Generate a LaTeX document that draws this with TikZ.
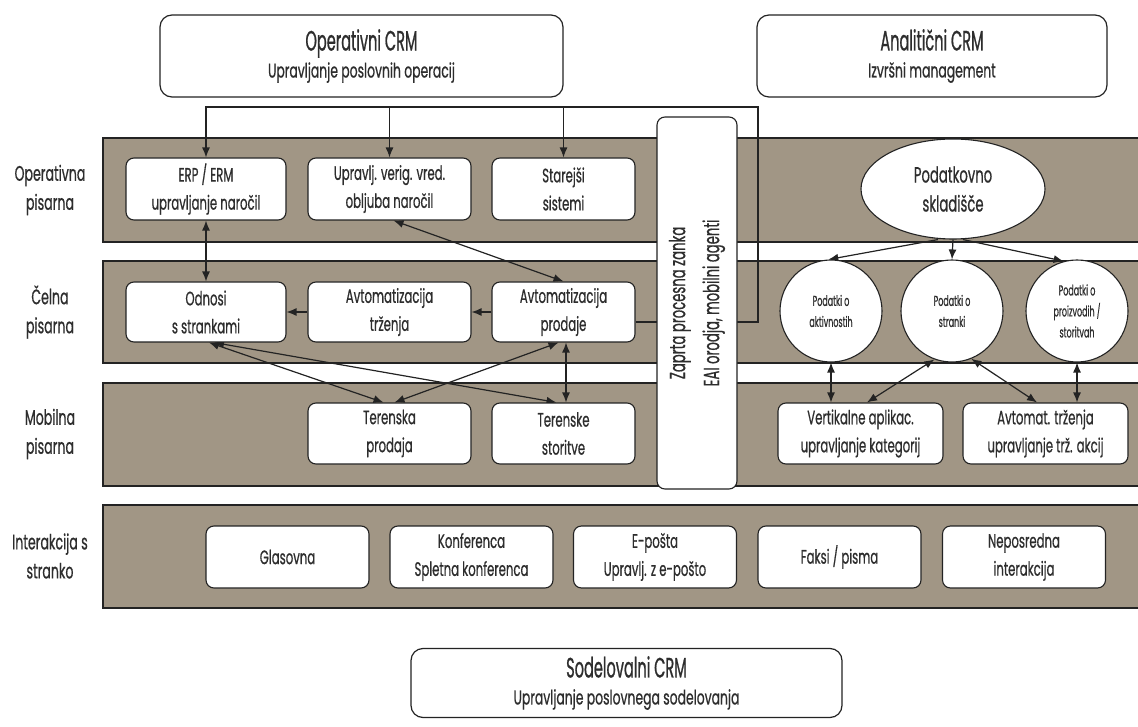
\documentclass[tikz,border=0pt]{standalone}
\usepackage{fontspec}
\setmainfont{Poppins}[FakeStretch=0.6, FakeBold=0.6]
\newfontfamily\ttlfont{Poppins}[FakeStretch=0.52, FakeBold=0.7]
\newfontfamily\subfontx{Poppins}[FakeStretch=0.62, FakeBold=0.6]
\newfontfamily\circfont{Poppins}[FakeStretch=0.55, FakeBold=0.5]
\usetikzlibrary{arrows.meta,shapes.geometric,calc}
\definecolor{bandc}{RGB}{161,150,133}
\definecolor{ink}{RGB}{35,35,35}
\definecolor{txt}{RGB}{45,45,45}
\pgfdeclarelayer{bg}
\pgfdeclarelayer{lines}
\pgfsetlayers{bg,lines,main}
\begin{document}
\begin{tikzpicture}[x=1pt,y=-1pt,
 bandrect/.style={draw=ink, line width=1.6pt, fill=bandc},
 wbox/.style={draw=ink, line width=1.1pt, fill=white, rounded corners=8pt, align=center, inner sep=0pt, text=txt, font=\fontsize{19.5}{28}\selectfont},
 titlebox/.style={draw=ink, line width=1.2pt, fill=white, rounded corners=12pt, align=center, inner sep=0pt, text=txt, font=\subfontx\fontsize{20}{27}\selectfont},
 rowlab/.style={align=center, text=txt, inner sep=0pt, font=\fontsize{21}{29}\selectfont},
 dcirc/.style={circle, draw=ink, line width=1.1pt, fill=white, minimum size=102pt, inner sep=0pt, align=center, text=txt, font=\circfont\fontsize{14.5}{21}\selectfont},
 conn/.style={draw=ink, line width=1.2pt},
 arrs/.style={-{Latex[length=10pt,width=8pt]}},
 arrd/.style={{Latex[length=10pt,width=8pt]}-{Latex[length=10pt,width=8pt]}},
]
\useasboundingbox (0,0) rectangle (1138,727);
\begin{pgfonlayer}{bg}
\fill[white] (0,0) rectangle (1138,727);
\draw[bandrect] (103,138) rectangle (1150,242);
\draw[bandrect] (103,261) rectangle (1150,363);
\draw[bandrect] (103,383) rectangle (1150,486);
\draw[bandrect] (103,505) rectangle (1150,608);
\end{pgfonlayer}

% row labels
\node[rowlab] (l1) at (50,190) {Operativna\\pisarna};
\node[rowlab] (l2) at (50,312) {Čelna\\pisarna};
\node[rowlab] (l3) at (50,434) {Mobilna\\pisarna};
\node[rowlab] (l4) at (50,556) {Interakcija s\\stranko};

% titles
\node[titlebox, minimum width=403pt, minimum height=82pt] (op) at (361.5,56)
  {{\ttlfont\fontsize{28}{28}\selectfont Operativni CRM}\\Upravljanje poslovnih operacij};
\node[titlebox, minimum width=350pt, minimum height=82pt] (an) at (932,56)
  {{\ttlfont\fontsize{28}{28}\selectfont Analitični CRM}\\Izvršni management};
\node[titlebox, minimum width=431pt, minimum height=69pt] (so) at (626.5,683)
  {{\ttlfont\fontsize{28}{28}\selectfont Sodelovalni CRM}\\Upravljanje poslovnega sodelovanja};

% band 1
\node[wbox, minimum width=160pt, minimum height=62pt] (erp) at (206,189) {ERP / ERM\\upravljanje naročil};
\node[wbox, minimum width=163pt, minimum height=62pt] (uvv) at (389.5,189) {Upravlj. verig. vred.\\obljuba naročil};
\node[wbox, minimum width=143pt, minimum height=62pt] (star) at (563.5,189) {Starejši\\sistemi};
\node[ellipse, draw=ink, line width=1.1pt, fill=white, minimum width=184pt, minimum height=100pt, inner sep=0pt, align=center, text=txt, font=\fontsize{22}{29}\selectfont] (ell) at (953,189) {Podatkovno\\skladišče};

% band 2
\node[wbox, minimum width=160pt, minimum height=60pt] (odn) at (206,312) {Odnosi\\s strankami};
\node[wbox, minimum width=163pt, minimum height=60pt] (atr) at (389.5,312) {Avtomatizacija\\trženja};
\node[wbox, minimum width=143pt, minimum height=60pt] (apr) at (563.5,312) {Avtomatizacija\\prodaje};
\node[dcirc] (c1) at (831,311) {Podatki o\\aktivnostih};
\node[dcirc] (c2) at (952,311) {Podatki o\\stranki};
\node[dcirc] (c3) at (1077,311) {Podatki o\\proizvodih /\\storitvah};

% band 3
\node[wbox, minimum width=163pt, minimum height=61pt] (tpr) at (389.5,433.5) {Terenska\\prodaja};
\node[wbox, minimum width=143pt, minimum height=61pt] (tst) at (563.5,433.5) {Terenske\\storitve};
\node[wbox, minimum width=165pt, minimum height=61pt] (ver) at (860.5,433.5) {Vertikalne aplikac.\\upravljanje kategorij};
\node[wbox, minimum width=165pt, minimum height=61pt] (avt) at (1045.5,433.5) {Avtomat. trženja\\upravljanje trž. akcij};

% band 4
\node[wbox, minimum width=163pt, minimum height=62pt] (gla) at (287.5,557) {Glasovna};
\node[wbox, minimum width=163pt, minimum height=62pt] (kon) at (471.5,557) {Konferenca\\Spletna konferenca};
\node[wbox, minimum width=163pt, minimum height=62pt] (epo) at (655,557) {E-pošta\\Upravlj. z e-pošto};
\node[wbox, minimum width=163pt, minimum height=62pt] (fak) at (839.5,557) {Faksi / pisma};
\node[wbox, minimum width=163pt, minimum height=62pt] (nep) at (1024,557) {Neposredna\\interakcija};

% vertical process box
\node[wbox, rotate=90, minimum width=372pt, minimum height=80pt, font=\fontsize{22}{34}\selectfont] (zap) at (697,303) {Zaprta procesna zanka\\EAI orodja, mobilni agenti};

\begin{pgfonlayer}{lines}
\coordinate (busR) at (758,107);
\draw[conn,arrs] ($(apr.east)+(0,10)$) -| (busR) -| (erp.north);
\draw[conn,arrs] (uvv.north |- busR) -- (uvv.north);
\draw[conn,arrs] (star.north |- busR) -- (star.north);
\draw[conn,arrd] (erp.south) -- (odn.north);
\draw[conn,arrd] ($(uvv.south)+(4,0)$) -- (apr.north);
\draw[conn,arrs] (apr.west) -- (atr.east);
\draw[conn,arrs] (atr.west) -- (odn.east);
\draw[conn,arrd] ($(odn.south)+(3,0)$) -- ($(tpr.north)+(-6,0)$);
\draw[conn,arrd] ($(odn.south)+(8,0)$) -- ($(tst.north)+(-7,0)$);
\draw[conn,arrd] ($(apr.south)+(-5,0)$) -- ($(tpr.north)+(5,0)$);
\draw[conn,arrd] ($(apr.south)+(2.5,0)$) -- ($(tst.north)+(2.5,0)$);
\draw[conn,arrs] ($(ell.south)+(-15,0)$) -- (c1.93);
\draw[conn,arrs] (ell.south) -- (c2.north);
\draw[conn,arrs] ($(ell.south)+(10,0)$) -- (c3.105);
\draw[conn,arrd] (c1.south) -- (c1.south |- ver.north);
\draw[conn,arrd] (c2.250) -- ($(ver.north)+(6.5,0)$);
\draw[conn,arrd] (c2.292) -- ($(avt.north)+(-8.5,0)$);
\draw[conn,arrd] (c3.south) -- (c3.south |- avt.north);
\end{pgfonlayer}
\end{tikzpicture}
\end{document}
